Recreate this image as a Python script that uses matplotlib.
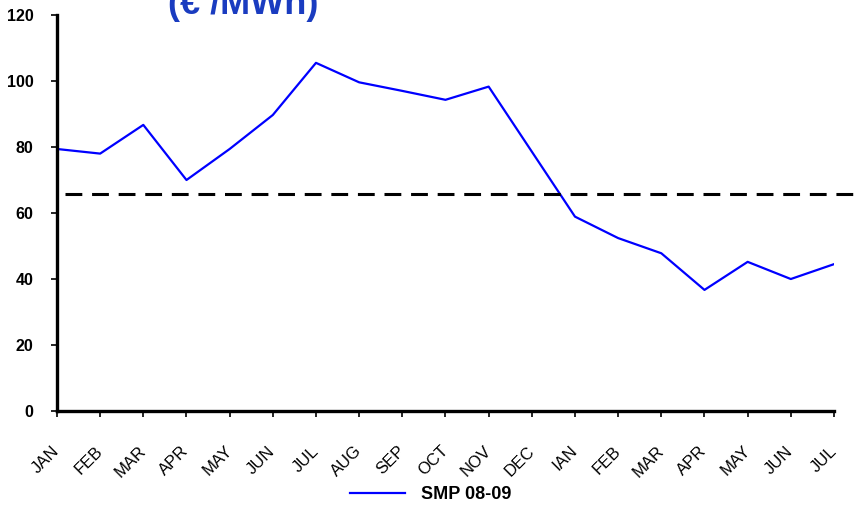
import matplotlib

matplotlib.use("Agg")
import matplotlib.pyplot as plt

plt.rcParams["font.family"] = ["Liberation Sans", "DejaVu Sans"]

# data
months = ["JAN", "FEB", "MAR", "APR", "MAY", "JUN", "JUL", "AUG", "SEP", "OCT",
          "NOV", "DEC", "IAN", "FEB", "MAR", "APR", "MAY", "JUN", "JUL"]
smp = [79.4, 78.0, 86.7, 70.0, 79.4, 89.7, 105.5, 99.6, 97.0, 94.3,
       98.3, 78.6, 58.9, 52.4, 47.8, 36.7, 45.2, 40.0, 44.5]
avg_level = 65.8
y_ticks = [0, 20, 40, 60, 80, 100, 120]

fig = plt.figure(figsize=(8.62, 5.05), dpi=100)
ax = fig.add_axes([0.0661, 0.1861, 0.9014, 0.7842])

x = list(range(len(months)))
ax.plot(x, smp, color="#0000FF", linewidth=1.6, label="SMP 08-09")
ax.plot([0.19, 18.65], [avg_level, avg_level], color="black", linewidth=2.2,
        linestyle=(0, (5.5, 3.2)), clip_on=False)

ax.set_xlim(0, len(months) - 1)
ax.set_ylim(0, 120)
ax.set_yticks(y_ticks)
ax.set_yticklabels([str(v) for v in y_ticks], fontweight="bold", fontsize=11.5)
ax.set_xticks(x)
ax.set_xticklabels(months, rotation=45, ha="right", va="center",
                   rotation_mode="anchor", fontsize=12)

for side in ["top", "right"]:
    ax.spines[side].set_visible(False)
for side in ["left", "bottom"]:
    ax.spines[side].set_linewidth(2.4)
ax.tick_params(axis="y", direction="out", length=4, width=1.2, pad=13)
ax.tick_params(axis="x", direction="out", length=4, width=1.2, pad=23)

fig.text(0.282, 0.972, "(€ /MWh)", color="#1a3cc0", fontsize=26,
         fontweight="bold", ha="center", va="baseline")

fig.legend(loc="center", bbox_to_anchor=(0.4994, 0.020), frameon=False,
           handlelength=3.05, handletextpad=0.9,
           prop={"weight": "bold", "size": 13})

fig.savefig("out.png", dpi=100)
plt.close()
